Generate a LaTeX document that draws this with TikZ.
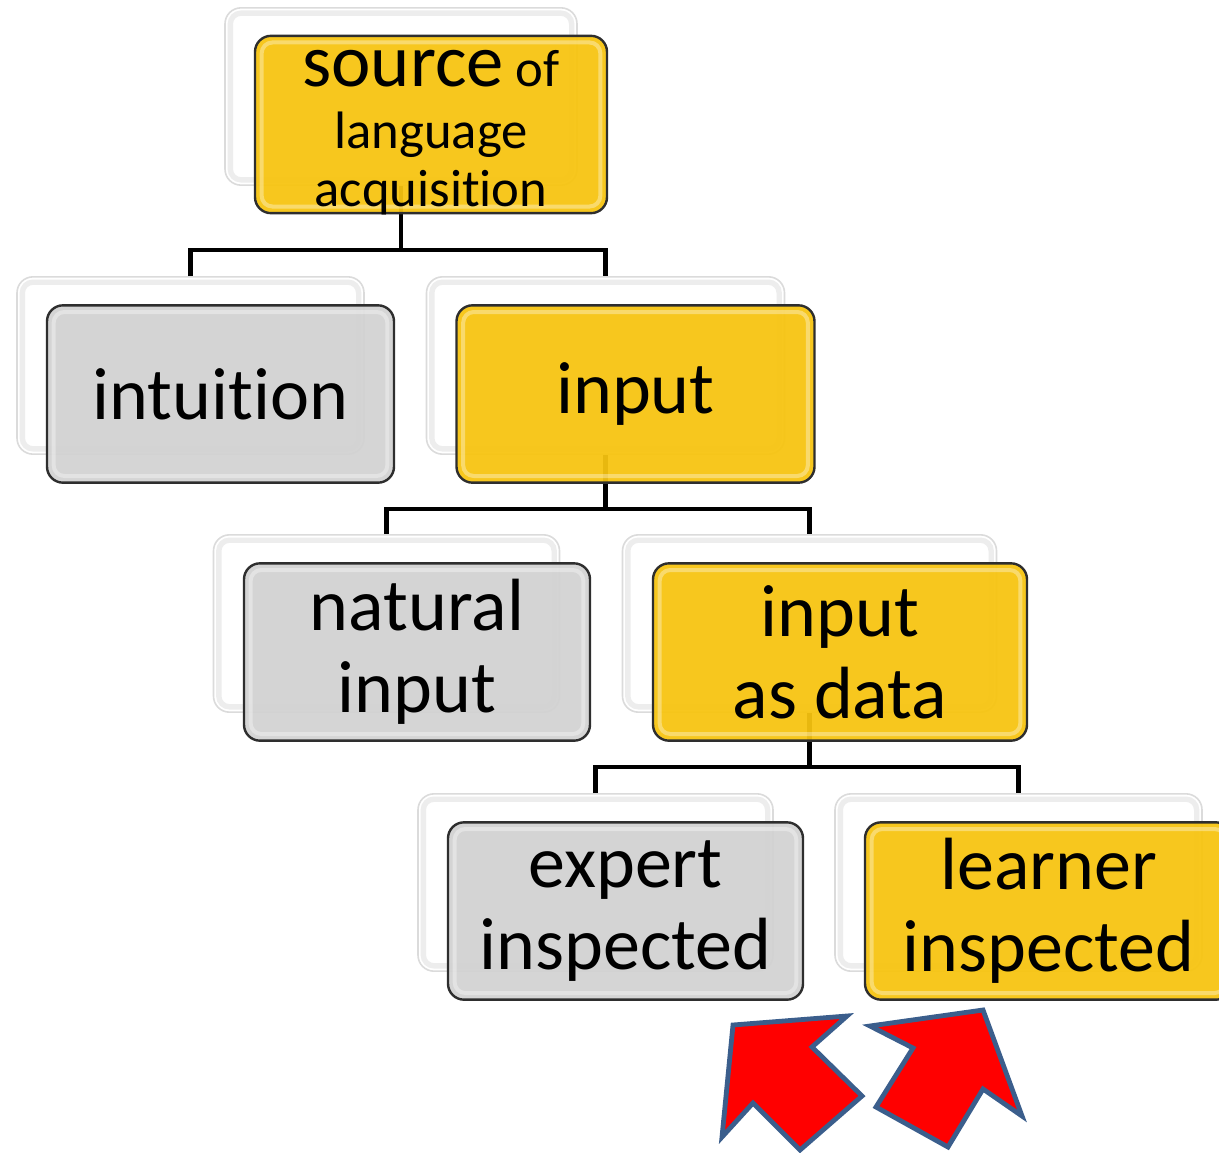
\documentclass[tikz,border=0pt]{standalone}
\usepackage{fontspec}
\setmainfont{Carlito}[Ligatures={NoCommon}]
\usetikzlibrary{calc}
\definecolor{gold}{HTML}{F7C410}
\definecolor{lgray}{HTML}{D2D2D2}
\definecolor{arrowedge}{HTML}{3B5E8C}
\definecolor{boxedge}{HTML}{2E2E2E}
\begin{document}
\begin{tikzpicture}[x=0.75pt,y=-0.75pt,
  backbox/.style={rectangle, rounded corners=12pt, draw=black!14, line width=1.2pt, fill=white,
    minimum height=133pt, inner sep=0pt,
    path picture={\draw[black!7, line width=4pt, rounded corners=8pt]
      ([xshift=4pt,yshift=-4pt]path picture bounding box.north west) rectangle
      ([xshift=-4pt,yshift=4pt]path picture bounding box.south east);}},
  frontbox/.style={rectangle, rounded corners=12pt, draw=boxedge, line width=1.8pt,
    fill opacity=0.94, text opacity=1, minimum height=133pt, inner sep=0pt, align=center,
    font=\fontsize{55.5}{61.5}\selectfont,
    path picture={\draw[white, opacity=0.35, line width=3pt, rounded corners=8pt]
      ([xshift=5pt,yshift=-5pt]path picture bounding box.north west) rectangle
      ([xshift=-5pt,yshift=5pt]path picture bounding box.south east);}},
  yellowbox/.style={frontbox, fill=gold},
  graybox/.style={frontbox, fill=lgray},
  conn/.style={draw=black, line width=3.2pt, line join=miter},
  bigarrow/.style={fill=red, draw=arrowedge, line width=3.6pt, line join=miter}
]
\useasboundingbox (0,0) rectangle (1219,1152);
\begin{scope}
\clip (0,0) rectangle (1219,1152);
% back boxes
\node[backbox, minimum width=264pt]    (srcB) at (401,96.5) {};
\node[backbox, minimum width=260.25pt] (intB) at (190.5,365.5) {};
\node[backbox, minimum width=268.5pt]  (inpB) at (605.5,365.5) {};
\node[backbox, minimum width=259.5pt]  (natB) at (386.5,623.5) {};
\node[backbox, minimum width=280.5pt]  (iadB) at (809.5,623.5) {};
\node[backbox, minimum width=266.25pt] (expB) at (595.5,882.5) {};
\node[backbox, minimum width=275.25pt] (lrnB) at (1018.5,882.5) {};
% bus levels
\coordinate (bus1) at (0,250);
\coordinate (bus2) at (0,509);
\coordinate (bus3) at (0,767);
% connectors
\draw[conn] (srcB.south) -- (srcB.south |- bus1);
\draw[conn] (intB.north) -- (intB.north |- bus1) -- (inpB.north |- bus1) -- (inpB.north);
\draw[conn] (inpB.south) -- (inpB.south |- bus2);
\draw[conn] (natB.north) -- (natB.north |- bus2) -- (iadB.north |- bus2) -- (iadB.north);
\draw[conn] (iadB.south) -- (iadB.south |- bus3);
\draw[conn] (expB.north) -- (expB.north |- bus3) -- (lrnB.north |- bus3) -- (lrnB.north);
% front boxes
\node[yellowbox, minimum width=264pt] (src) at (431,124.5) {};
\node[anchor=north, inner sep=0pt, align=center, font=\fontsize{39.5}{43.5}\selectfont] (srcT) at (431,50)
  {{\fontsize{56}{58}\selectfont source} of\\[3pt]language\\acquisition};
\node[graybox, minimum width=260.25pt] (int) at (220.5,394) {intuition};
\node[yellowbox, minimum width=268.5pt] (inp) at (635.5,394) {input};
\node[graybox, minimum width=259.5pt] (nat) at (417,652) {natural\\input};
\node[yellowbox, minimum width=280.5pt] (iad) at (840,652) {input\\as data};
\node[graybox, minimum width=266.25pt] (exp) at (625.5,911) {expert\\inspected};
\node[yellowbox, minimum width=275.25pt] (lrn) at (1048.5,911) {learner\\inspected};
% arrows
\draw[bigarrow] (733,1025) -- (847,1016) -- (812,1047) -- (862,1096) -- (800,1150) -- (753,1103) -- (722,1137) -- cycle;
\draw[bigarrow] (870,1026) -- (983,1010) -- (1022,1116) -- (983,1089) -- (948,1147) -- (876,1107) -- (913,1048) -- cycle;
\end{scope}
\end{tikzpicture}
\end{document}
